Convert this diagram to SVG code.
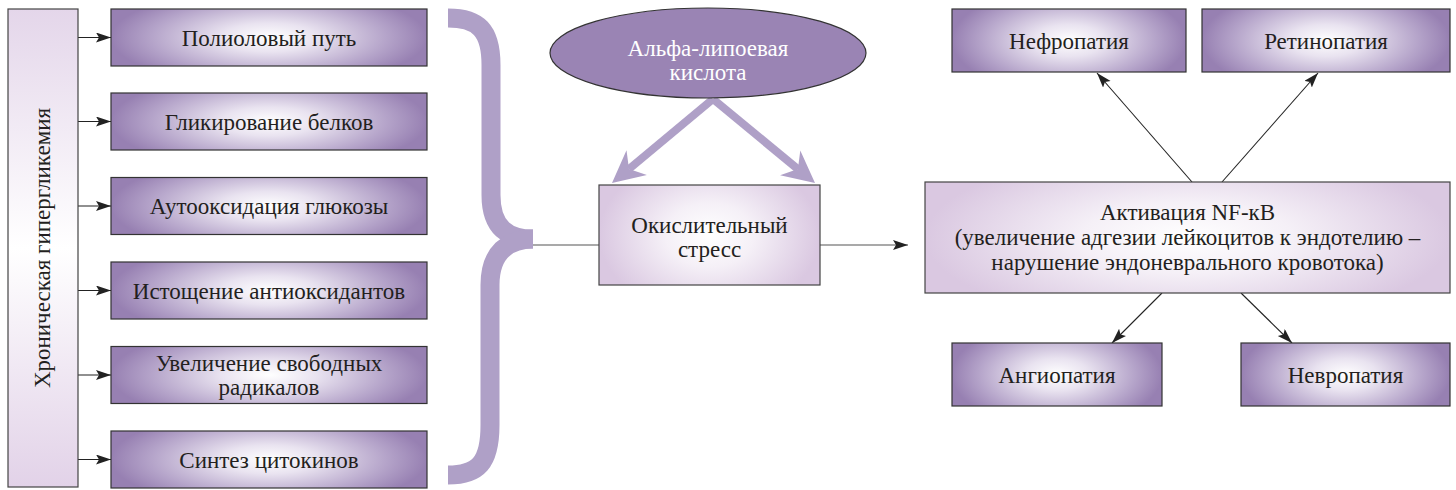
<svg xmlns="http://www.w3.org/2000/svg" width="1456" height="490" viewBox="0 0 1456 490">
<style>
  .t{font-family:"Liberation Serif","DejaVu Serif",serif;font-size:23px;fill:#231f20;text-anchor:middle}
  .tw{fill:#ffffff}
  .dark{fill:url(#gDark);stroke:#333;stroke-width:1.2}
  .light{fill:url(#gLight);stroke:#444;stroke-width:1.2}
  .thin{stroke:#222;stroke-width:1.1;fill:none}
  .gray{stroke:#555;stroke-width:1.1;fill:none}
  .brace{stroke:#afa0c7;stroke-width:19;fill:none;stroke-linecap:butt}
  .thick{stroke:#afa0c7;stroke-width:8;fill:none}
</style>
<defs>
  <radialGradient id="gDark" cx="0.5" cy="0.5" r="0.5" gradientTransform="translate(0.5,0.5) scale(1,1.7) translate(-0.5,-0.5)">
    <stop offset="0" stop-color="#ffffff"/>
    <stop offset="0.3" stop-color="#e9e3f0"/>
    <stop offset="0.75" stop-color="#b4a3c9"/>
    <stop offset="1" stop-color="#9780b2"/>
  </radialGradient>
  <radialGradient id="gLight" cx="0.5" cy="0.5" r="0.5" gradientTransform="translate(0.5,0.5) scale(1,1.6) translate(-0.5,-0.5)">
    <stop offset="0" stop-color="#ffffff"/>
    <stop offset="0.4" stop-color="#f5f0f7"/>
    <stop offset="1" stop-color="#dac8e1"/>
  </radialGradient>
  <linearGradient id="gVert" x1="0" y1="0" x2="0" y2="1">
    <stop offset="0" stop-color="#e4d6ea"/>
    <stop offset="0.5" stop-color="#ffffff"/>
    <stop offset="1" stop-color="#e2d2e8"/>
  </linearGradient>
  <marker id="ah" markerUnits="userSpaceOnUse" markerWidth="16" markerHeight="11" refX="15" refY="5" orient="auto">
    <path d="M0,0 L15,5 L0,10 L3,5 z" fill="#222"/>
  </marker>
</defs>

<g id="connectors">
  <line class="thin" x1="78" y1="37.5" x2="111" y2="37.5" marker-end="url(#ah)"/>
  <line class="thin" x1="78" y1="121.5" x2="111" y2="121.5" marker-end="url(#ah)"/>
  <line class="thin" x1="78" y1="206" x2="111" y2="206" marker-end="url(#ah)"/>
  <line class="thin" x1="78" y1="290.5" x2="111" y2="290.5" marker-end="url(#ah)"/>
  <line class="thin" x1="78" y1="375" x2="111" y2="375" marker-end="url(#ah)"/>
  <line class="thin" x1="78" y1="459.5" x2="111" y2="459.5" marker-end="url(#ah)"/>
  <path class="brace" d="M448 18 C478 18 491 30 491 65 L491 195 C491 228 508 239 533 239"/>
  <path class="brace" d="M533 239 C508 239 490 252 490 285 L490 425 C490 463 478 475 448 475"/>
  <line class="gray" x1="533" y1="245" x2="599" y2="245"/>
  <line class="thick" x1="713" y1="99" x2="629" y2="169"/>
  <polygon points="612,183 626.5,150.3 629,169 646.9,175.1" fill="#afa0c7"/>
  <line class="thick" x1="713" y1="99" x2="797.9" y2="169.1"/>
  <polygon points="815,183 800.3,150.4 797.9,169.1 780.1,175.2" fill="#afa0c7"/>
  <line class="gray" x1="820" y1="245" x2="908" y2="245" marker-end="url(#ah)"/>
  <line class="thin" x1="1192" y1="182" x2="1097" y2="73" marker-end="url(#ah)"/>
  <line class="thin" x1="1222" y1="182" x2="1318" y2="73" marker-end="url(#ah)"/>
  <line class="thin" x1="1162" y1="293" x2="1112" y2="343" marker-end="url(#ah)"/>
  <line class="thin" x1="1241" y1="293" x2="1292" y2="343" marker-end="url(#ah)"/>
</g>

<g id="hyperglycemia">
  <rect x="8" y="9" width="70" height="478" fill="url(#gVert)" stroke="#444" stroke-width="1.2"/>
  <text class="t" transform="translate(50,248) rotate(-90)">Хроническая гипергликемия</text>
</g>
<g id="polyol">
  <rect class="dark" x="111" y="9" width="316" height="57"/>
  <text class="t" x="269" y="45.5">Полиоловый путь</text>
</g>
<g id="glycation">
  <rect class="dark" x="111" y="93" width="316" height="57"/>
  <text class="t" x="269" y="129.5">Гликирование белков</text>
</g>
<g id="autoox">
  <rect class="dark" x="111" y="177.5" width="316" height="57"/>
  <text class="t" x="269" y="214">Аутооксидация глюкозы</text>
</g>
<g id="depletion">
  <rect class="dark" x="111" y="262" width="316" height="57"/>
  <text class="t" x="269" y="298.5">Истощение антиоксидантов</text>
</g>
<g id="radicals">
  <rect class="dark" x="111" y="346.5" width="316" height="57"/>
  <text class="t" x="269" y="371">Увеличение свободных</text>
  <text class="t" x="269" y="395">радикалов</text>
</g>
<g id="cytokines">
  <rect class="dark" x="111" y="431" width="316" height="57"/>
  <text class="t" x="269" y="467.5">Синтез цитокинов</text>
</g>
<g id="ala">
  <ellipse cx="708" cy="53" rx="158" ry="45" fill="#9a84b4" stroke="#333" stroke-width="1.2"/>
  <text class="t tw" x="708" y="56">Альфа-липоевая</text>
  <text class="t tw" x="708" y="80">кислота</text>
</g>
<g id="oxstress">
  <rect class="light" x="599" y="185" width="221" height="100"/>
  <text class="t" x="709.5" y="233">Окислительный</text>
  <text class="t" x="709.5" y="257">стресс</text>
</g>
<g id="nfkb">
  <rect class="light" x="925" y="182" width="525" height="111"/>
  <text class="t" x="1187.5" y="220">Активация NF-кВ</text>
  <text class="t" x="1187.5" y="245">(увеличение адгезии лейкоцитов к эндотелию –</text>
  <text class="t" x="1187.5" y="270">нарушение эндоневрального кровотока)</text>
</g>
<g id="nephro">
  <rect class="dark" x="952" y="9" width="234" height="63"/>
  <text class="t" x="1069" y="48.5">Нефропатия</text>
</g>
<g id="retino">
  <rect class="dark" x="1202" y="9" width="248" height="63"/>
  <text class="t" x="1326" y="48.5">Ретинопатия</text>
</g>
<g id="angio">
  <rect class="dark" x="952" y="343" width="210" height="63"/>
  <text class="t" x="1057" y="382.5">Ангиопатия</text>
</g>
<g id="neuro">
  <rect class="dark" x="1241" y="343" width="209" height="63"/>
  <text class="t" x="1345.5" y="382.5">Невропатия</text>
</g>
</svg>
